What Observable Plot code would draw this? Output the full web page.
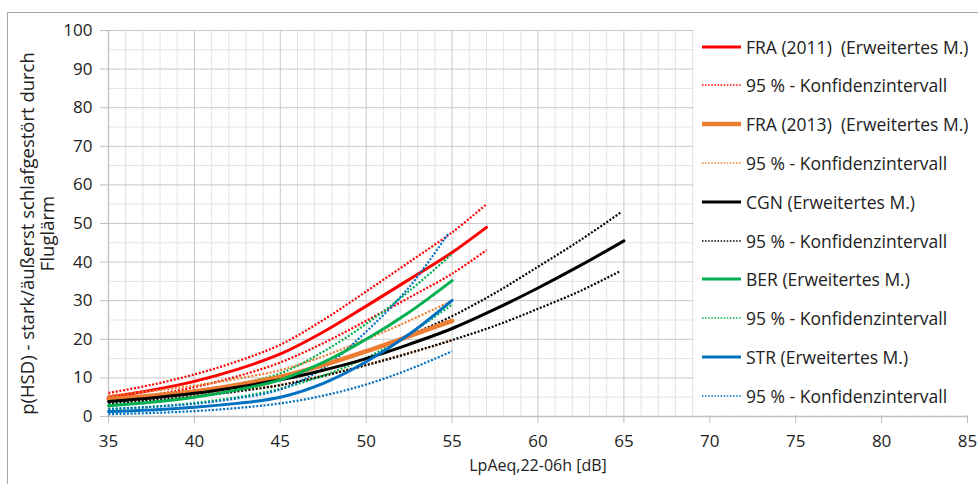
<!DOCTYPE html>
<html>
<head>
<meta charset="utf-8">
<script src="https://cdn.jsdelivr.net/npm/d3@7"></script>
<script src="https://cdn.jsdelivr.net/npm/@observablehq/plot@0.6"></script>
<style>
  html, body { margin: 0; padding: 0; background: #fff; overflow: hidden; }
  #wrap { position: relative; width: 978px; height: 484px; font-family: "Open Sans", sans-serif; }
  #frame { position: absolute; left: 7px; top: 12px; width: 1200px; height: 800px;
           border-left: 1px solid #a6a6a6; border-top: 1px solid #a6a6a6; }
  #chart { position: absolute; left: 0; top: 0; }
  #legend { position: absolute; left: 694px; top: 29px; width: 284px; height: 386px; background: #fff; }
  .row { position: absolute; left: 8px; height: 24px; display: flex; align-items: center;
         font-size: 17.5px; color: #222; white-space: pre; }
  .row svg { margin-right: 3px; }
</style>
</head>
<body>
<div id="wrap">
  <div id="frame"></div>
  <div id="chart"></div>
  <div id="legend"></div>
</div>
<script>
// ---- data ----
const xTo55   = [35, 37.5, 40, 42.5, 45, 47.5, 50, 52.5, 55];
const xTo57   = [35, 37.5, 40, 42.5, 45, 47.5, 50, 52.5, 55, 57];
const xCGN    = [35, 37.5, 40, 42.5, 45, 47.5, 50, 52.5, 55, 57.5, 60, 62.5, 65];
const xCGNci  = [35, 37.5, 40, 42.5, 45, 47.5, 50, 52.5, 55, 57.5, 60, 62.5, 64.8];
const xSTRup  = [35, 37.5, 40, 42.5, 45, 47.5, 50, 52.5, 54.8];

const fra2011     = [5.0, 6.8, 9.1, 12.2, 16.2, 21.9, 28.6, 35.5, 42.5, 49.0];
const fra2011Up   = [6.1, 8.2, 10.9, 14.3, 18.6, 25.0, 32.4, 40.0, 47.7, 55.0];
const fra2011Lo   = [4.0, 5.5, 7.6, 10.4, 14.0, 19.0, 24.8, 30.8, 37.0, 43.1];

const fra2013     = [4.6, 5.4, 6.5, 8.2, 10.3, 13.3, 16.9, 20.8, 24.8];
const fra2013Up   = [5.4, 6.6, 8.0, 9.8, 12.0, 15.6, 20.0, 24.8, 30.0];
const fra2013Lo   = [4.0, 4.8, 5.8, 6.8, 8.2, 10.6, 13.4, 16.5, 19.7];

const cgn         = [3.9, 4.8, 6.0, 7.6, 9.5, 12.0, 15.0, 18.7, 22.8, 27.8, 33.3, 39.2, 45.5];
const cgnUp       = [4.4, 5.4, 6.7, 8.3, 10.4, 13.2, 16.7, 21.0, 26.0, 32.0, 38.8, 45.8, 52.8];
const cgnLo       = [3.4, 4.2, 5.2, 6.5, 8.1, 10.5, 13.3, 16.4, 19.8, 23.5, 27.9, 32.6, 37.7];

const ber         = [2.8, 3.7, 5.0, 6.9, 9.5, 14.0, 20.0, 27.0, 35.2];
const berUp       = [3.7, 4.9, 6.4, 8.4, 11.2, 16.8, 24.0, 32.5, 42.1];
const berLo       = [1.8, 2.5, 3.5, 5.0, 7.2, 10.6, 15.2, 21.4, 29.0];

const str         = [1.3, 1.7, 2.4, 3.4, 5.0, 8.6, 14.2, 21.3, 30.1];
const strUp       = [2.0, 2.5, 3.3, 4.7, 7.0, 12.5, 22.0, 33.5, 47.5];
const strLo       = [0.6, 0.9, 1.4, 2.2, 3.4, 5.4, 8.3, 12.2, 16.9];

const xTicks = [35, 40, 45, 50, 55, 60, 65, 70, 75, 80, 85];
const yTicks = [0, 10, 20, 30, 40, 50, 60, 70, 80, 90, 100];

const legendLabels = [
  "FRA (2011)  (Erweitertes M.)", "95 % - Konfidenzintervall",
  "FRA (2013)  (Erweitertes M.)", "95 % - Konfidenzintervall",
  "CGN (Erweitertes M.)", "95 % - Konfidenzintervall",
  "BER (Erweitertes M.)", "95 % - Konfidenzintervall",
  "STR (Erweitertes M.)", "95 % - Konfidenzintervall"
];
const xTitle = "LpAeq,22-06h [dB]";
const yTitle = "p(HSD) - stark/äußerst schlafgestört durch\nFluglärm";

// ---- styles ----
const RED = "#ff0000", ORANGE = "#ed7d31", BLACK = "#000000", GREEN = "#00b050", BLUE = "#0070c0";
const DOT = "2 1.7";

const series = [
  {xs: xTo57,  ys: fra2011,   color: RED,    w: 3,   dot: false},
  {xs: xTo57,  ys: fra2011Up, color: RED,    w: 2.2, dot: true},
  {xs: xTo57,  ys: fra2011Lo, color: RED,    w: 2.2, dot: true},
  {xs: xTo55,  ys: fra2013Up, color: ORANGE, w: 2.2, dot: true},
  {xs: xTo55,  ys: fra2013Lo, color: ORANGE, w: 2.2, dot: true},
  {xs: xCGNci, ys: cgnUp,     color: BLACK,  w: 2.2, dot: true},
  {xs: xCGNci, ys: cgnLo,     color: BLACK,  w: 2.2, dot: true},
  {xs: xTo55,  ys: berUp,     color: GREEN,  w: 2.2, dot: true},
  {xs: xTo55,  ys: berLo,     color: GREEN,  w: 2.2, dot: true},
  {xs: xSTRup, ys: strUp,     color: BLUE,   w: 2.2, dot: true},
  {xs: xTo55,  ys: strLo,     color: BLUE,   w: 2.2, dot: true},
  {xs: xTo55,  ys: fra2013,   color: ORANGE, w: 4.5, dot: false},
  {xs: xCGN,   ys: cgn,       color: BLACK,  w: 3,   dot: false},
  {xs: xTo55,  ys: ber,       color: GREEN,  w: 3,   dot: false},
  {xs: xTo55,  ys: str,       color: BLUE,   w: 3,   dot: false}
];

const minorX = d3.range(36, 85).filter(v => v % 5 !== 0);
const majorX = xTicks.filter(v => v > 35);
const minorY = d3.range(5, 100, 10);
const majorY = yTicks.filter(v => v > 0);

const lineMarks = series.map(s => Plot.line(s.xs.map((x, i) => ({x, y: s.ys[i]})), {
  x: "x", y: "y", stroke: s.color, strokeWidth: s.w,
  strokeDasharray: s.dot ? DOT : null, curve: "catmull-rom",
  strokeLinecap: s.dot ? "butt" : "round"
}));

const chart = Plot.plot({
  width: 978, height: 484,
  marginLeft: 108, marginRight: 11, marginTop: 30, marginBottom: 68,
  x: {domain: [35, 85]},
  y: {domain: [0, 100]},
  style: {fontFamily: "Open Sans", fontSize: "17px", color: "#222", background: "transparent"},
  marks: [
    Plot.ruleX(minorX, {stroke: "#e3e3e3", strokeWidth: 1}),
    Plot.ruleY(minorY, {stroke: "#e3e3e3", strokeWidth: 1}),
    Plot.ruleX(majorX, {stroke: "#c8c8c8", strokeWidth: 1}),
    Plot.ruleY(majorY, {stroke: "#c8c8c8", strokeWidth: 1}),
    Plot.ruleY([0], {stroke: "#bfbfbf", strokeWidth: 1.3}),
    Plot.ruleX([35], {stroke: "#bfbfbf", strokeWidth: 1.3}),
    Plot.axisX({ticks: xTicks, tickSize: 7, tickPadding: 11, stroke: "#bfbfbf", fill: "#222",
                label: null, tickFormat: d => String(d), fontSize: 17}),
    Plot.axisY({ticks: yTicks, tickSize: 8, tickPadding: 8, stroke: "#bfbfbf", fill: "#222",
                label: null, tickFormat: d => String(d), fontSize: 17}),
    ...lineMarks,
    Plot.text([xTitle], {frameAnchor: "bottom", dy: 54, fill: "#222", fontSize: 16}),
    Plot.text([yTitle], {frameAnchor: "left", dx: -71, dy: 10, rotate: -90, fill: "#222", fontSize: 18.5,
                         textAnchor: "middle", lineAnchor: "middle", lineHeight: 1.08})
  ]
});
document.getElementById("chart").appendChild(chart);

// ---- legend ----
const legendStyles = [
  {color: RED, w: 3, dot: false}, {color: RED, w: 1.5, dot: true},
  {color: ORANGE, w: 4.5, dot: false}, {color: ORANGE, w: 1.5, dot: true},
  {color: BLACK, w: 3, dot: false}, {color: BLACK, w: 1.5, dot: true},
  {color: GREEN, w: 3, dot: false}, {color: GREEN, w: 1.5, dot: true},
  {color: BLUE, w: 3, dot: false}, {color: BLUE, w: 1.5, dot: true}
];
const legend = document.getElementById("legend");
legendLabels.forEach((lab, i) => {
  const st = legendStyles[i];
  const row = document.createElement("div");
  row.className = "row";
  row.style.top = (5.5 + i * 38.8) + "px";
  const svg = d3.create("svg").attr("width", 41).attr("height", 12);
  svg.append("line").attr("x1", 0).attr("x2", 39).attr("y1", 6).attr("y2", 6)
    .attr("stroke", st.color).attr("stroke-width", st.w)
    .attr("stroke-dasharray", st.dot ? "1.5 1.6" : null);
  row.appendChild(svg.node());
  const span = document.createElement("span");
  span.textContent = lab;
  row.appendChild(span);
  legend.appendChild(row);
});
</script>
</body>
</html>
